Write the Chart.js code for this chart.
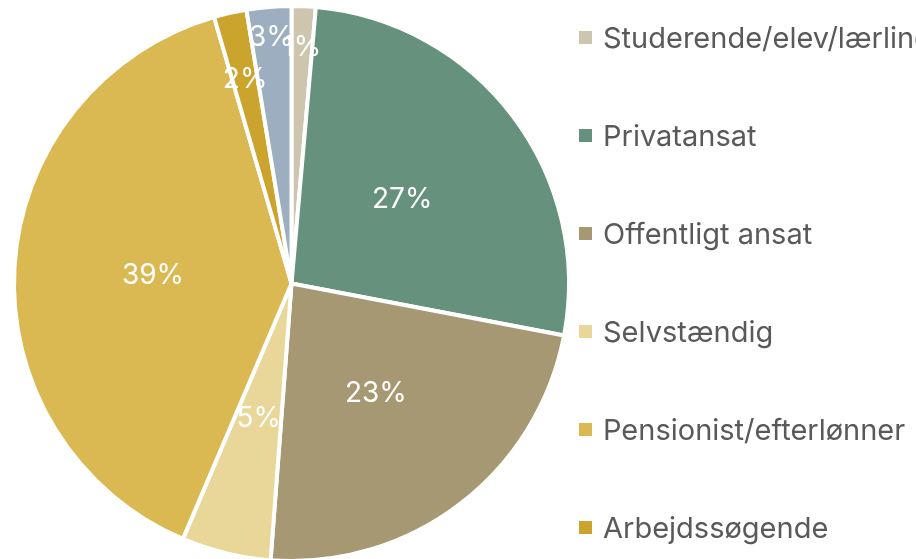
<!DOCTYPE html>
<html>
<head>
<meta charset="utf-8">
<script src="https://cdn.jsdelivr.net/npm/chart.js@4"></script>
<style>
  html, body { margin: 0; padding: 0; background: #fff; overflow: hidden; }
  #wrap { position: relative; width: 916px; height: 559px; overflow: hidden; }
  #pie-box { position: absolute; left: 0; top: 0; width: 582px; height: 566px; }
  #legend { position: absolute; left: 579px; top: -12px; margin: 0; padding: 0; list-style: none; }
  #legend li { display: flex; align-items: center; height: 98px; white-space: nowrap;
    font-family: Inter, "Noto Sans", sans-serif; font-size: 29px; color: #595959; }
  #legend span.box { display: inline-block; width: 13px; height: 13px; margin-right: 11px; }
</style>
</head>
<body>
<div id="wrap">
  <div id="pie-box"><canvas id="pie-chart"></canvas></div>
  <ul id="legend"></ul>
</div>
<script>
const categories = ['Studerende/elev/lærling', 'Privatansat', 'Offentligt ansat', 'Selvstændig',
    'Pensionist/efterlønner', 'Arbejdssøgende', 'Andet'];
const shares = [1.4, 26.6, 23.2, 5.2, 39.1, 1.9, 2.6];
const colors = ['#CDC5AD', '#66917D', '#A59873', '#E9D699', '#DAB952', '#CAA42C', '#9CAEBF'];

// how far out each percent label sits, as part of the radius
const labelRadius = [0.85, 0.5, 0.5, 0.5, 0.5, 0.755, 0.89];

const percentLabels = {
    id: 'percentLabels',
    afterDatasetsDraw(chart) {
        const ctx = chart.ctx;
        const meta = chart.getDatasetMeta(0);
        const data = chart.data.datasets[0].data;
        const total = data.reduce((a, b) => a + b, 0);
        ctx.save();
        ctx.fillStyle = '#fff';
        ctx.font = '28px Inter, "Noto Sans", sans-serif';
        ctx.textAlign = 'center';
        ctx.textBaseline = 'middle';
        meta.data.forEach((arc, i) => {
            const p = arc.getProps(['x', 'y', 'startAngle', 'endAngle', 'outerRadius'], true);
            const mid = (p.startAngle + p.endAngle) / 2;
            const r = p.outerRadius * labelRadius[i];
            const pct = Math.round(Math.round(1000 * data[i] / total) / 10);
            ctx.fillText(pct + '%', p.x + Math.cos(mid) * r, p.y + Math.sin(mid) * r);
        });
        ctx.restore();
    }
};

const htmlLegend = {
    id: 'htmlLegend',
    afterUpdate(chart) {
        const list = document.getElementById('legend');
        list.innerHTML = '';
        chart.options.plugins.legend.labels.generateLabels(chart).forEach(item => {
            const li = document.createElement('li');
            const box = document.createElement('span');
            box.className = 'box';
            box.style.background = item.fillStyle;
            li.appendChild(box);
            li.appendChild(document.createTextNode(item.text));
            list.appendChild(li);
        });
    }
};

new Chart(document.getElementById('pie-chart'), {
    type: 'pie',
    data: {
        labels: categories,
        datasets: [{
            data: shares,
            backgroundColor: colors,
            borderColor: '#fff',
            borderWidth: 4
        }]
    },
    options: {
        responsive: true,
        maintainAspectRatio: false,
        animation: false,
        layout: { padding: { left: 12, right: 11, top: 4, bottom: 3 } },
        plugins: {
            legend: { display: false },
            tooltip: { enabled: false }
        }
    },
    plugins: [percentLabels, htmlLegend]
});
</script>
</body>
</html>
